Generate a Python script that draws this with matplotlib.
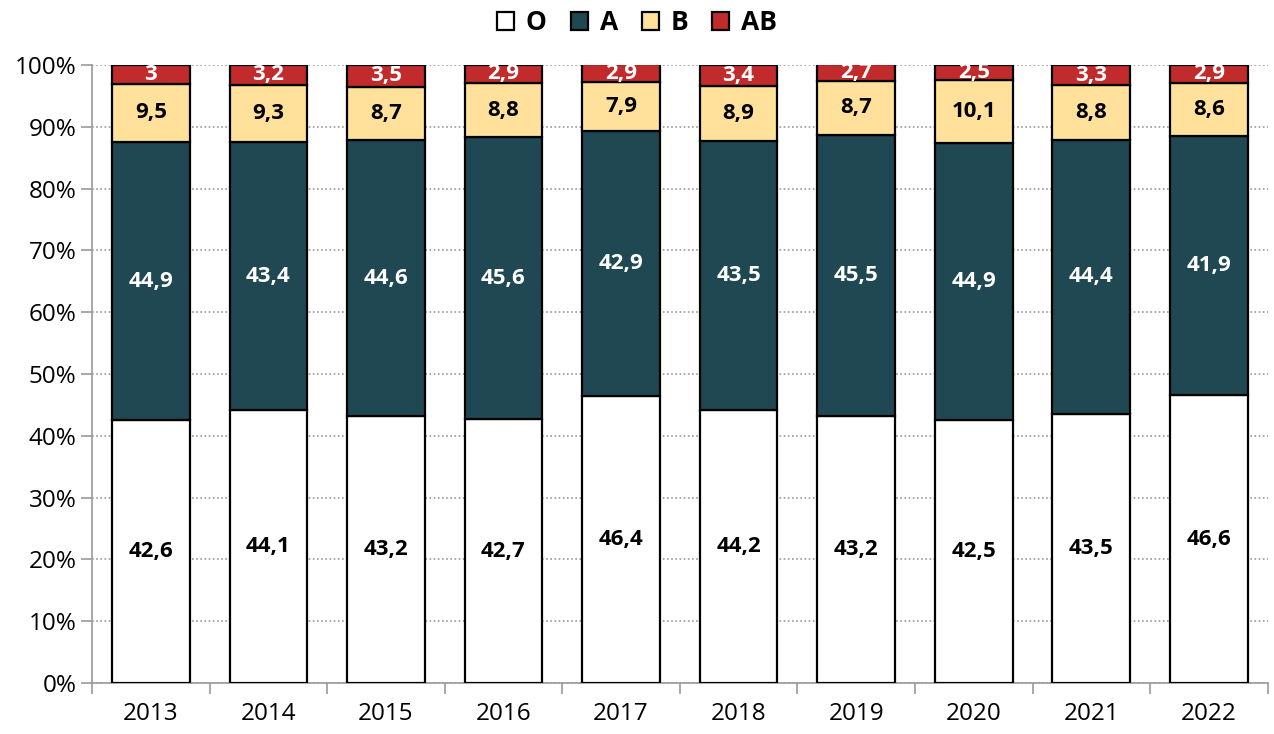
import numpy as np
import matplotlib.pyplot as plt
from matplotlib.patches import Patch
from matplotlib.ticker import FuncFormatter, FixedLocator

years = ["2013", "2014", "2015", "2016", "2017", "2018", "2019", "2020", "2021", "2022"]
group_o = [42.6, 44.1, 43.2, 42.7, 46.4, 44.2, 43.2, 42.5, 43.5, 46.6]
group_a = [44.9, 43.4, 44.6, 45.6, 42.9, 43.5, 45.5, 44.9, 44.4, 41.9]
group_b = [9.5, 9.3, 8.7, 8.8, 7.9, 8.9, 8.7, 10.1, 8.8, 8.6]
group_ab = [3, 3.2, 3.5, 2.9, 2.9, 3.4, 2.7, 2.5, 3.3, 2.9]

series = [
    ("O", group_o, "#FFFFFF", "black"),
    ("A", group_a, "#1F4852", "white"),
    ("B", group_b, "#FFE19C", "black"),
    ("AB", group_ab, "#C22B2C", "white"),
]

plt.rcParams["font.family"] = ["Open Sans", "DejaVu Sans"]

fig = plt.figure(figsize=(12.74, 7.34), dpi=100)
ax = fig.add_axes([0.0722, 0.0695, 0.9228, 0.8419])

x = np.arange(len(years))
bottom = np.zeros(len(years))
handles = []
for name, vals, color, tcolor in series:
    vals = np.array(vals, dtype=float)
    ax.bar(x, vals, 0.66, bottom=bottom, color=color, edgecolor="black",
           linewidth=1.6, zorder=3)
    for xi, b, v in zip(x, bottom, vals):
        txt = f"{v:g}".replace(".", ",")
        ax.text(xi, b + v / 2, txt, ha="center", va="center", color=tcolor,
                fontsize=16, fontweight="bold", zorder=4)
    bottom += vals
    handles.append(Patch(facecolor=color, edgecolor="black", linewidth=1.6, label=name))

ax.set_xlim(-0.5, len(years) - 0.5)
ax.set_ylim(0, 100)
ax.yaxis.set_major_locator(FixedLocator(np.arange(0, 101, 10)))
ax.yaxis.set_major_formatter(FuncFormatter(lambda v, _: f"{v:.0f}%"))
ax.grid(axis="y", color="#999999", linestyle=(0, (1, 1.5)), linewidth=1.2, zorder=0)
ax.set_xticks(x)
ax.set_xticklabels(years)
ax.set_xticks(np.arange(-0.5, len(years)), minor=True)
ax.tick_params(axis="x", which="major", length=0, labelsize=17.5, pad=14)
ax.tick_params(axis="x", which="minor", length=8, color="#999999", width=1.2)
ax.tick_params(axis="y", length=8, color="#999999", width=1.2, labelsize=17.5, pad=3)
for side in ["top", "right"]:
    ax.spines[side].set_visible(False)
for side in ["left", "bottom"]:
    ax.spines[side].set_color("#999999")
    ax.spines[side].set_linewidth(1.2)

fig.legend(handles=handles, loc="upper center", bbox_to_anchor=(0.5, 1.02), ncol=4,
           frameon=False, handlelength=0.65, handleheight=0.65, handletextpad=0.45,
           columnspacing=0.9, prop={"size": 19, "weight": "bold"})

fig.savefig("out.png", dpi=100)
